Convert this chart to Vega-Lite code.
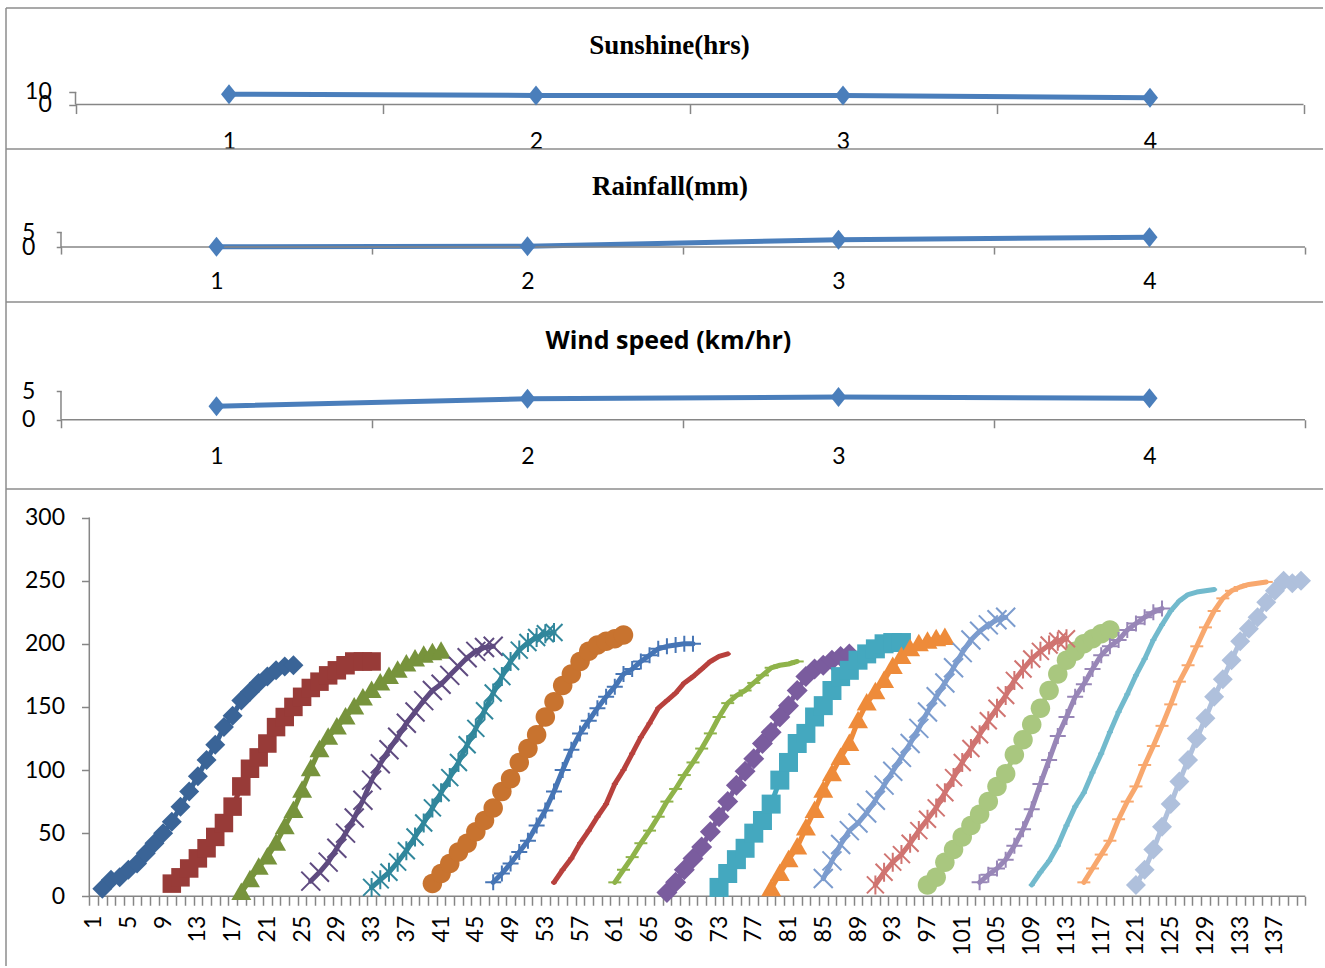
{
"$schema":"https://vega.github.io/schema/vega-lite/v6.json",
"padding":{"left":5,"top":7,"right":0,"bottom":0},
"spacing":0,
"bounds":"flush",
"config":{"view":{"stroke":null},"font":"Lato","axis":{"grid":false,"domain":false,"tickColor":"#868686","tickWidth":1.5,"labelColor":"#000000","labelFont":"Lato","labelFontSize":23,"labelOverlap":false,"labelFlush":false}},
"datasets":{
"sun":[{"cat":1,"v":8.2},{"cat":2,"v":7.2},{"cat":3,"v":7.2},{"cat":4,"v":5.3}],
"rain":[{"cat":1,"v":0.1},{"cat":2,"v":0.3},{"cat":3,"v":2.5},{"cat":4,"v":3.3}],
"wind":[{"cat":1,"v":2.4},{"cat":2,"v":3.7},{"cat":3,"v":4.0},{"cat":4,"v":3.8}],
"curves":[
{"s":1,"x":2,"y":6},{"s":1,"x":3,"y":13},{"s":1,"x":4,"y":15},{"s":1,"x":5,"y":21},{"s":1,"x":6,"y":26},{"s":1,"x":7,"y":34},{"s":1,"x":8,"y":42},{"s":1,"x":9,"y":50},{"s":1,"x":10,"y":59},{"s":1,"x":11,"y":71},{"s":1,"x":12,"y":83},{"s":1,"x":13,"y":95},{"s":1,"x":14,"y":108},{"s":1,"x":15,"y":120},{"s":1,"x":16,"y":134},{"s":1,"x":17,"y":143},{"s":1,"x":18,"y":155},{"s":1,"x":19,"y":162},{"s":1,"x":20,"y":169},{"s":1,"x":21,"y":174},{"s":1,"x":22,"y":179},{"s":1,"x":23,"y":182},{"s":1,"x":24,"y":183},
{"s":2,"x":10,"y":10},{"s":2,"x":11,"y":15},{"s":2,"x":12,"y":22},{"s":2,"x":13,"y":30},{"s":2,"x":14,"y":38},{"s":2,"x":15,"y":47},{"s":2,"x":16,"y":58},{"s":2,"x":17,"y":71},{"s":2,"x":18,"y":87},{"s":2,"x":19,"y":101},{"s":2,"x":20,"y":110},{"s":2,"x":21,"y":121},{"s":2,"x":22,"y":134},{"s":2,"x":23,"y":142},{"s":2,"x":24,"y":150},{"s":2,"x":25,"y":158},{"s":2,"x":26,"y":165},{"s":2,"x":27,"y":170},{"s":2,"x":28,"y":175},{"s":2,"x":29,"y":179},{"s":2,"x":30,"y":183},{"s":2,"x":31,"y":186},{"s":2,"x":32,"y":186},{"s":2,"x":33,"y":186},
{"s":3,"x":18,"y":3},{"s":3,"x":19,"y":13},{"s":3,"x":20,"y":23},{"s":3,"x":21,"y":31},{"s":3,"x":22,"y":42},{"s":3,"x":23,"y":55},{"s":3,"x":24,"y":68},{"s":3,"x":25,"y":84},{"s":3,"x":26,"y":101},{"s":3,"x":27,"y":116},{"s":3,"x":28,"y":126},{"s":3,"x":29,"y":134},{"s":3,"x":30,"y":142},{"s":3,"x":31,"y":150},{"s":3,"x":32,"y":157},{"s":3,"x":33,"y":163},{"s":3,"x":34,"y":169},{"s":3,"x":35,"y":174},{"s":3,"x":36,"y":179},{"s":3,"x":37,"y":184},{"s":3,"x":38,"y":188},{"s":3,"x":39,"y":191},{"s":3,"x":40,"y":193},{"s":3,"x":41,"y":194},
{"s":4,"x":26,"y":12},{"s":4,"x":27,"y":19},{"s":4,"x":28,"y":27},{"s":4,"x":29,"y":38},{"s":4,"x":30,"y":50},{"s":4,"x":31,"y":62},{"s":4,"x":32,"y":76},{"s":4,"x":33,"y":92},{"s":4,"x":34,"y":105},{"s":4,"x":35,"y":116},{"s":4,"x":36,"y":126},{"s":4,"x":37,"y":137},{"s":4,"x":38,"y":146},{"s":4,"x":39,"y":155},{"s":4,"x":40,"y":163},{"s":4,"x":41,"y":168},{"s":4,"x":42,"y":175},{"s":4,"x":43,"y":182},{"s":4,"x":44,"y":189},{"s":4,"x":45,"y":194},{"s":4,"x":46,"y":197},{"s":4,"x":47,"y":198},
{"s":5,"x":33,"y":7},{"s":5,"x":34,"y":13},{"s":5,"x":35,"y":19},{"s":5,"x":36,"y":27},{"s":5,"x":37,"y":36},{"s":5,"x":38,"y":47},{"s":5,"x":39,"y":58},{"s":5,"x":40,"y":70},{"s":5,"x":41,"y":82},{"s":5,"x":42,"y":94},{"s":5,"x":43,"y":106},{"s":5,"x":44,"y":120},{"s":5,"x":45,"y":133},{"s":5,"x":46,"y":147},{"s":5,"x":47,"y":161},{"s":5,"x":48,"y":174},{"s":5,"x":49,"y":186},{"s":5,"x":50,"y":195},{"s":5,"x":51,"y":201},{"s":5,"x":52,"y":205},{"s":5,"x":53,"y":208},{"s":5,"x":54,"y":209},
{"s":6,"x":40,"y":10},{"s":6,"x":41,"y":18},{"s":6,"x":42,"y":26},{"s":6,"x":43,"y":35},{"s":6,"x":44,"y":42},{"s":6,"x":45,"y":51},{"s":6,"x":46,"y":60},{"s":6,"x":47,"y":70},{"s":6,"x":48,"y":83},{"s":6,"x":49,"y":93},{"s":6,"x":50,"y":106},{"s":6,"x":51,"y":117},{"s":6,"x":52,"y":128},{"s":6,"x":53,"y":142},{"s":6,"x":54,"y":154},{"s":6,"x":55,"y":167},{"s":6,"x":56,"y":176},{"s":6,"x":57,"y":186},{"s":6,"x":58,"y":194},{"s":6,"x":59,"y":199},{"s":6,"x":60,"y":202},{"s":6,"x":61,"y":204},{"s":6,"x":62,"y":207},
{"s":7,"x":47,"y":11},{"s":7,"x":48,"y":18},{"s":7,"x":49,"y":26},{"s":7,"x":50,"y":35},{"s":7,"x":51,"y":44},{"s":7,"x":52,"y":56},{"s":7,"x":53,"y":68},{"s":7,"x":54,"y":83},{"s":7,"x":55,"y":100},{"s":7,"x":56,"y":116},{"s":7,"x":57,"y":129},{"s":7,"x":58,"y":139},{"s":7,"x":59,"y":149},{"s":7,"x":60,"y":158},{"s":7,"x":61,"y":166},{"s":7,"x":62,"y":176},{"s":7,"x":63,"y":180},{"s":7,"x":64,"y":186},{"s":7,"x":65,"y":191},{"s":7,"x":66,"y":196},{"s":7,"x":67,"y":198},{"s":7,"x":68,"y":199},{"s":7,"x":69,"y":200},{"s":7,"x":70,"y":200},
{"s":8,"x":54,"y":11},{"s":8,"x":55,"y":21},{"s":8,"x":56,"y":30},{"s":8,"x":57,"y":42},{"s":8,"x":58,"y":52},{"s":8,"x":59,"y":63},{"s":8,"x":60,"y":73},{"s":8,"x":61,"y":89},{"s":8,"x":62,"y":100},{"s":8,"x":63,"y":113},{"s":8,"x":64,"y":126},{"s":8,"x":65,"y":137},{"s":8,"x":66,"y":149},{"s":8,"x":67,"y":155},{"s":8,"x":68,"y":161},{"s":8,"x":69,"y":169},{"s":8,"x":70,"y":174},{"s":8,"x":71,"y":180},{"s":8,"x":72,"y":186},{"s":8,"x":73,"y":190},{"s":8,"x":74,"y":192},
{"s":9,"x":61,"y":11},{"s":9,"x":62,"y":21},{"s":9,"x":63,"y":31},{"s":9,"x":64,"y":42},{"s":9,"x":65,"y":52},{"s":9,"x":66,"y":63},{"s":9,"x":67,"y":75},{"s":9,"x":68,"y":85},{"s":9,"x":69,"y":96},{"s":9,"x":70,"y":106},{"s":9,"x":71,"y":117},{"s":9,"x":72,"y":129},{"s":9,"x":73,"y":142},{"s":9,"x":74,"y":153},{"s":9,"x":75,"y":159},{"s":9,"x":76,"y":163},{"s":9,"x":77,"y":169},{"s":9,"x":78,"y":175},{"s":9,"x":79,"y":181},{"s":9,"x":80,"y":183},{"s":9,"x":81,"y":184},{"s":9,"x":82,"y":186},
{"s":10,"x":67,"y":3},{"s":10,"x":68,"y":11},{"s":10,"x":69,"y":21},{"s":10,"x":70,"y":30},{"s":10,"x":71,"y":39},{"s":10,"x":72,"y":51},{"s":10,"x":73,"y":63},{"s":10,"x":74,"y":75},{"s":10,"x":75,"y":88},{"s":10,"x":76,"y":99},{"s":10,"x":77,"y":109},{"s":10,"x":78,"y":121},{"s":10,"x":79,"y":130},{"s":10,"x":80,"y":142},{"s":10,"x":81,"y":151},{"s":10,"x":82,"y":163},{"s":10,"x":83,"y":174},{"s":10,"x":84,"y":180},{"s":10,"x":85,"y":183},{"s":10,"x":86,"y":187},{"s":10,"x":87,"y":190},{"s":10,"x":88,"y":192},
{"s":11,"x":73,"y":7},{"s":11,"x":74,"y":18},{"s":11,"x":75,"y":29},{"s":11,"x":76,"y":38},{"s":11,"x":77,"y":50},{"s":11,"x":78,"y":60},{"s":11,"x":79,"y":73},{"s":11,"x":80,"y":92},{"s":11,"x":81,"y":106},{"s":11,"x":82,"y":121},{"s":11,"x":83,"y":129},{"s":11,"x":84,"y":142},{"s":11,"x":85,"y":151},{"s":11,"x":86,"y":163},{"s":11,"x":87,"y":174},{"s":11,"x":88,"y":179},{"s":11,"x":89,"y":187},{"s":11,"x":90,"y":192},{"s":11,"x":91,"y":196},{"s":11,"x":92,"y":200},{"s":11,"x":93,"y":201},{"s":11,"x":94,"y":201},
{"s":12,"x":79,"y":6},{"s":12,"x":80,"y":18},{"s":12,"x":81,"y":29},{"s":12,"x":82,"y":39},{"s":12,"x":83,"y":54},{"s":12,"x":84,"y":68},{"s":12,"x":85,"y":84},{"s":12,"x":86,"y":97},{"s":12,"x":87,"y":110},{"s":12,"x":88,"y":121},{"s":12,"x":89,"y":139},{"s":12,"x":90,"y":153},{"s":12,"x":91,"y":162},{"s":12,"x":92,"y":171},{"s":12,"x":93,"y":182},{"s":12,"x":94,"y":190},{"s":12,"x":95,"y":196},{"s":12,"x":96,"y":200},{"s":12,"x":97,"y":202},{"s":12,"x":98,"y":204},{"s":12,"x":99,"y":205},
{"s":13,"x":85,"y":14},{"s":13,"x":86,"y":28},{"s":13,"x":87,"y":41},{"s":13,"x":88,"y":52},{"s":13,"x":89,"y":58},{"s":13,"x":90,"y":66},{"s":13,"x":91,"y":76},{"s":13,"x":92,"y":88},{"s":13,"x":93,"y":99},{"s":13,"x":94,"y":110},{"s":13,"x":95,"y":121},{"s":13,"x":96,"y":133},{"s":13,"x":97,"y":146},{"s":13,"x":98,"y":158},{"s":13,"x":99,"y":169},{"s":13,"x":100,"y":181},{"s":13,"x":101,"y":193},{"s":13,"x":102,"y":203},{"s":13,"x":103,"y":210},{"s":13,"x":104,"y":215},{"s":13,"x":105,"y":219},{"s":13,"x":106,"y":221},
{"s":14,"x":91,"y":9},{"s":14,"x":92,"y":19},{"s":14,"x":93,"y":27},{"s":14,"x":94,"y":33},{"s":14,"x":95,"y":42},{"s":14,"x":96,"y":52},{"s":14,"x":97,"y":61},{"s":14,"x":98,"y":70},{"s":14,"x":99,"y":82},{"s":14,"x":100,"y":94},{"s":14,"x":101,"y":106},{"s":14,"x":102,"y":117},{"s":14,"x":103,"y":128},{"s":14,"x":104,"y":139},{"s":14,"x":105,"y":149},{"s":14,"x":106,"y":159},{"s":14,"x":107,"y":171},{"s":14,"x":108,"y":180},{"s":14,"x":109,"y":188},{"s":14,"x":110,"y":194},{"s":14,"x":111,"y":199},{"s":14,"x":112,"y":202},{"s":14,"x":113,"y":204},
{"s":15,"x":97,"y":9},{"s":15,"x":98,"y":15},{"s":15,"x":99,"y":27},{"s":15,"x":100,"y":37},{"s":15,"x":101,"y":47},{"s":15,"x":102,"y":56},{"s":15,"x":103,"y":65},{"s":15,"x":104,"y":75},{"s":15,"x":105,"y":87},{"s":15,"x":106,"y":97},{"s":15,"x":107,"y":112},{"s":15,"x":108,"y":124},{"s":15,"x":109,"y":136},{"s":15,"x":110,"y":149},{"s":15,"x":111,"y":163},{"s":15,"x":112,"y":176},{"s":15,"x":113,"y":187},{"s":15,"x":114,"y":194},{"s":15,"x":115,"y":200},{"s":15,"x":116,"y":204},{"s":15,"x":117,"y":208},{"s":15,"x":118,"y":211},
{"s":16,"x":103,"y":11},{"s":16,"x":104,"y":17},{"s":16,"x":105,"y":22},{"s":16,"x":106,"y":29},{"s":16,"x":107,"y":40},{"s":16,"x":108,"y":53},{"s":16,"x":109,"y":69},{"s":16,"x":110,"y":89},{"s":16,"x":111,"y":108},{"s":16,"x":112,"y":127},{"s":16,"x":113,"y":142},{"s":16,"x":114,"y":158},{"s":16,"x":115,"y":168},{"s":16,"x":116,"y":180},{"s":16,"x":117,"y":191},{"s":16,"x":118,"y":198},{"s":16,"x":119,"y":203},{"s":16,"x":120,"y":211},{"s":16,"x":121,"y":216},{"s":16,"x":122,"y":221},{"s":16,"x":123,"y":225},{"s":16,"x":124,"y":228},
{"s":17,"x":109,"y":9},{"s":17,"x":110,"y":19},{"s":17,"x":111,"y":28},{"s":17,"x":112,"y":40},{"s":17,"x":113,"y":56},{"s":17,"x":114,"y":71},{"s":17,"x":115,"y":82},{"s":17,"x":116,"y":98},{"s":17,"x":117,"y":113},{"s":17,"x":118,"y":130},{"s":17,"x":119,"y":146},{"s":17,"x":120,"y":160},{"s":17,"x":121,"y":175},{"s":17,"x":122,"y":188},{"s":17,"x":123,"y":203},{"s":17,"x":124,"y":215},{"s":17,"x":125,"y":226},{"s":17,"x":126,"y":234},{"s":17,"x":127,"y":239},{"s":17,"x":128,"y":241},{"s":17,"x":129,"y":242},{"s":17,"x":130,"y":243},
{"s":18,"x":115,"y":11},{"s":18,"x":116,"y":22},{"s":18,"x":117,"y":33},{"s":18,"x":118,"y":44},{"s":18,"x":119,"y":61},{"s":18,"x":120,"y":75},{"s":18,"x":121,"y":87},{"s":18,"x":122,"y":104},{"s":18,"x":123,"y":119},{"s":18,"x":124,"y":135},{"s":18,"x":125,"y":152},{"s":18,"x":126,"y":170},{"s":18,"x":127,"y":183},{"s":18,"x":128,"y":198},{"s":18,"x":129,"y":213},{"s":18,"x":130,"y":226},{"s":18,"x":131,"y":236},{"s":18,"x":132,"y":242},{"s":18,"x":133,"y":245},{"s":18,"x":134,"y":247},{"s":18,"x":135,"y":248},{"s":18,"x":136,"y":249},
{"s":19,"x":121,"y":9},{"s":19,"x":122,"y":21},{"s":19,"x":123,"y":37},{"s":19,"x":124,"y":55},{"s":19,"x":125,"y":73},{"s":19,"x":126,"y":91},{"s":19,"x":127,"y":108},{"s":19,"x":128,"y":125},{"s":19,"x":129,"y":141},{"s":19,"x":130,"y":158},{"s":19,"x":131,"y":172},{"s":19,"x":132,"y":187},{"s":19,"x":133,"y":202},{"s":19,"x":134,"y":212},{"s":19,"x":135,"y":221},{"s":19,"x":136,"y":233},{"s":19,"x":137,"y":242},{"s":19,"x":138,"y":250},{"s":19,"x":139,"y":248},{"s":19,"x":140,"y":250}
]},
"vconcat":[
{"width":1317,"height":141,
 "layer":[
  {"data":{"name":"sun"},"mark":{"type":"line","color":"#4A7EBB","strokeWidth":5},
   "encoding":{"x":{"field":"cat","type":"quantitative","scale":{"domain":[0.2736,4.5635],"nice":false,"zero":false},"axis":{"title":null,"values":[0.5,1.5,2.5,3.5,4.5],"labelExpr":"datum.value < 4 ? format(datum.value + 0.5, 'd') : ''","labelOffset":153.5,"offset":-44.45,"tickSize":9,"labelPadding":17,"labelOverlap":false,"minExtent":0}},
    "y":{"field":"v","type":"quantitative","scale":{"domain":[-35.28,76.63],"nice":false,"zero":false},"axis":{"title":null,"values":[0,10],"format":"d","offset":-69.75,"tickSize":7,"labelPadding":17.5,"labelOverlap":false}}}},
  {"data":{"values":[{}]},"mark":{"type":"rule","color":"#8c8c8c","strokeWidth":1.5},"encoding":{"x":{"datum":0.2736,"type":"quantitative"},"x2":{"datum":4.5635},"y":{"datum":76.63,"type":"quantitative"}}},
  {"data":{"values":[{}]},"mark":{"type":"rule","color":"#8c8c8c","strokeWidth":1.5},"encoding":{"x":{"datum":0.2736,"type":"quantitative"},"y":{"datum":-35.28,"type":"quantitative"},"y2":{"datum":76.63}}},
  {"data":{"values":[{}]},"mark":{"type":"rule","color":"#868686","strokeWidth":1.5},"encoding":{"x":{"datum":0.5,"type":"quantitative"},"x2":{"datum":4.5},"y":{"datum":0,"type":"quantitative"}}},
  {"data":{"values":[{}]},"mark":{"type":"rule","color":"#868686","strokeWidth":1.5},"encoding":{"x":{"datum":0.5,"type":"quantitative"},"y":{"datum":0,"type":"quantitative"},"y2":{"datum":10}}},
  {"data":{"name":"sun"},"mark":{"type":"point","filled":true,"opacity":1,"color":"#4A7EBB","size":100,"shape":"M0,-2L1.6,0L0,2L-1.6,0Z"},
   "encoding":{"x":{"field":"cat","type":"quantitative"},"y":{"field":"v","type":"quantitative"}}},
  {"data":{"values":[{"t":"Sunshine(hrs)"}]},"mark":{"type":"text","font":"Liberation Serif","fontSize":27,"fontWeight":"bold","color":"#000000","align":"center","baseline":"alphabetic"},
   "encoding":{"x":{"datum":2.435,"type":"quantitative"},"y":{"datum":40.48,"type":"quantitative"},"text":{"field":"t","type":"nominal"}}}
 ]},
{"width":1317,"height":153,
 "layer":[
  {"data":{"name":"rain"},"mark":{"type":"line","color":"#4A7EBB","strokeWidth":5},
   "encoding":{"x":{"field":"cat","type":"quantitative","scale":{"domain":[0.3232,4.5579],"nice":false,"zero":false},"axis":{"title":null,"values":[0.5,1.5,2.5,3.5,4.5],"labelExpr":"datum.value < 4 ? format(datum.value + 0.5, 'd') : ''","labelOffset":155.5,"offset":-54.95,"tickSize":7,"labelPadding":16.6,"labelOverlap":false,"minExtent":0}},
    "y":{"field":"v","type":"quantitative","scale":{"domain":[-18.69,33.35],"nice":false,"zero":false},"axis":{"title":null,"values":[0,5],"format":"d","offset":-55.25,"tickSize":5,"labelPadding":21.5,"labelOverlap":false}}}},
  {"data":{"values":[{}]},"mark":{"type":"rule","color":"#8c8c8c","strokeWidth":1.5},"encoding":{"x":{"datum":0.3232,"type":"quantitative"},"x2":{"datum":4.5579},"y":{"datum":33.35,"type":"quantitative"}}},
  {"data":{"values":[{}]},"mark":{"type":"rule","color":"#8c8c8c","strokeWidth":1.5},"encoding":{"x":{"datum":0.3232,"type":"quantitative"},"y":{"datum":-18.69,"type":"quantitative"},"y2":{"datum":33.35}}},
  {"data":{"values":[{}]},"mark":{"type":"rule","color":"#868686","strokeWidth":1.5},"encoding":{"x":{"datum":0.5,"type":"quantitative"},"x2":{"datum":4.5},"y":{"datum":0,"type":"quantitative"}}},
  {"data":{"values":[{}]},"mark":{"type":"rule","color":"#868686","strokeWidth":1.5},"encoding":{"x":{"datum":0.5,"type":"quantitative"},"y":{"datum":0,"type":"quantitative"},"y2":{"datum":5}}},
  {"data":{"name":"rain"},"mark":{"type":"point","filled":true,"opacity":1,"color":"#4A7EBB","size":100,"shape":"M0,-2L1.6,0L0,2L-1.6,0Z"},
   "encoding":{"x":{"field":"cat","type":"quantitative"},"y":{"field":"v","type":"quantitative"}}},
  {"data":{"values":[{"t":"Rainfall(mm)"}]},"mark":{"type":"text","font":"Liberation Serif","fontSize":27,"fontWeight":"bold","color":"#000000","align":"center","baseline":"alphabetic"},
   "encoding":{"x":{"datum":2.458,"type":"quantitative"},"y":{"datum":17.86,"type":"quantitative"},"text":{"field":"t","type":"nominal"}}}
 ]},
{"width":1317,"height":187,
 "layer":[
  {"data":{"name":"wind"},"mark":{"type":"line","color":"#4A7EBB","strokeWidth":5},
   "encoding":{"x":{"field":"cat","type":"quantitative","scale":{"domain":[0.3232,4.5579],"nice":false,"zero":false},"axis":{"title":null,"values":[0.5,1.5,2.5,3.5,4.5],"labelExpr":"datum.value < 4 ? format(datum.value + 0.5, 'd') : ''","labelOffset":155.5,"offset":-69.25,"tickSize":8,"labelPadding":18,"labelOverlap":false,"minExtent":0}},
    "y":{"field":"v","type":"quantitative","scale":{"domain":[-12.23,20.80],"nice":false,"zero":false},"axis":{"title":null,"values":[0,5],"format":"d","offset":-55.25,"tickSize":5,"labelPadding":21.5,"labelOverlap":false}}}},
  {"data":{"values":[{}]},"mark":{"type":"rule","color":"#8c8c8c","strokeWidth":1.5},"encoding":{"x":{"datum":0.3232,"type":"quantitative"},"x2":{"datum":4.5579},"y":{"datum":20.80,"type":"quantitative"}}},
  {"data":{"values":[{}]},"mark":{"type":"rule","color":"#8c8c8c","strokeWidth":1.5},"encoding":{"x":{"datum":0.3232,"type":"quantitative"},"y":{"datum":-12.23,"type":"quantitative"},"y2":{"datum":20.80}}},
  {"data":{"values":[{}]},"mark":{"type":"rule","color":"#868686","strokeWidth":1.5},"encoding":{"x":{"datum":0.5,"type":"quantitative"},"x2":{"datum":4.5},"y":{"datum":0,"type":"quantitative"}}},
  {"data":{"values":[{}]},"mark":{"type":"rule","color":"#868686","strokeWidth":1.5},"encoding":{"x":{"datum":0.5,"type":"quantitative"},"y":{"datum":0,"type":"quantitative"},"y2":{"datum":5}}},
  {"data":{"name":"wind"},"mark":{"type":"point","filled":true,"opacity":1,"color":"#4A7EBB","size":100,"shape":"M0,-2L1.6,0L0,2L-1.6,0Z"},
   "encoding":{"x":{"field":"cat","type":"quantitative"},"y":{"field":"v","type":"quantitative"}}},
  {"data":{"values":[{"t":"Wind speed (km/hr)"}]},"mark":{"type":"text","font":"Open Sans","fontSize":25,"fontWeight":"bold","color":"#000000","align":"center","baseline":"alphabetic"},
   "encoding":{"x":{"datum":2.453,"type":"quantitative"},"y":{"datum":12.58,"type":"quantitative"},"text":{"field":"t","type":"nominal"}}}
 ]},
{"width":1317,"height":477,
 "layer":[
  {"data":{"name":"curves"},"mark":{"type":"line","strokeWidth":5,"strokeJoin":"round","strokeCap":"round"},
   "encoding":{"x":{"field":"x","type":"quantitative","scale":{"domain":[-9.09,142.533],"nice":false,"zero":false},
     "axis":{"title":null,"tickCount":500,"values":[0.5,1.5,2.5,3.5,4.5,5.5,6.5,7.5,8.5,9.5,10.5,11.5,12.5,13.5,14.5,15.5,16.5,17.5,18.5,19.5,20.5,21.5,22.5,23.5,24.5,25.5,26.5,27.5,28.5,29.5,30.5,31.5,32.5,33.5,34.5,35.5,36.5,37.5,38.5,39.5,40.5,41.5,42.5,43.5,44.5,45.5,46.5,47.5,48.5,49.5,50.5,51.5,52.5,53.5,54.5,55.5,56.5,57.5,58.5,59.5,60.5,61.5,62.5,63.5,64.5,65.5,66.5,67.5,68.5,69.5,70.5,71.5,72.5,73.5,74.5,75.5,76.5,77.5,78.5,79.5,80.5,81.5,82.5,83.5,84.5,85.5,86.5,87.5,88.5,89.5,90.5,91.5,92.5,93.5,94.5,95.5,96.5,97.5,98.5,99.5,100.5,101.5,102.5,103.5,104.5,105.5,106.5,107.5,108.5,109.5,110.5,111.5,112.5,113.5,114.5,115.5,116.5,117.5,118.5,119.5,120.5,121.5,122.5,123.5,124.5,125.5,126.5,127.5,128.5,129.5,130.5,131.5,132.5,133.5,134.5,135.5,136.5,137.5,138.5,139.5,140.5],
      "labelExpr":"(datum.value - 0.5) % 4 == 0 && datum.value < 138 ? format(datum.value + 0.5, 'd') : ''","labelOffset":4.343,"labelAngle":-90,"labelAlign":"right","labelBaseline":"middle","offset":-69.75,"tickSize":9,"labelPadding":10,"labelOverlap":false,"minExtent":0}},
    "y":{"field":"y","type":"quantitative","scale":{"domain":[-55.26,322.63],"nice":false,"zero":false},"axis":{"title":null,"values":[0,50,100,150,200,250,300],"format":"d","offset":-83.5,"tickSize":8,"labelPadding":17,"labelOverlap":false}},
    "color":{"field":"s","type":"nominal","scale":{"domain":[1,2,3,4,5,6,7,8,9,10,11,12,13,14,15,16,17,18,19],"range":["#3A6497","#983B38","#77933C","#5F4B80","#31879C","#C8732F","#4675B5","#B8413D","#8FB34A","#7A5C9E","#44A8BF","#EE8B3A","#7C9CCE","#D07471","#A9C77F","#9886B7","#72BACD","#F8A86E","#AFC0DC"]},"legend":null}}},
  {"data":{"values":[{}]},"mark":{"type":"rule","color":"#8c8c8c","strokeWidth":1.5},"encoding":{"x":{"datum":-9.09,"type":"quantitative"},"x2":{"datum":142.533},"y":{"datum":322.63,"type":"quantitative"}}},
  {"data":{"values":[{}]},"mark":{"type":"rule","color":"#8c8c8c","strokeWidth":1.5},"encoding":{"x":{"datum":-9.09,"type":"quantitative"},"y":{"datum":-55.26,"type":"quantitative"},"y2":{"datum":322.63}}},
  {"data":{"values":[{}]},"mark":{"type":"rule","color":"#868686","strokeWidth":1.5},"encoding":{"x":{"datum":0.5,"type":"quantitative"},"x2":{"datum":140.5},"y":{"datum":0,"type":"quantitative"}}},
  {"data":{"values":[{}]},"mark":{"type":"rule","color":"#868686","strokeWidth":1.5},"encoding":{"x":{"datum":0.5,"type":"quantitative"},"y":{"datum":0,"type":"quantitative"},"y2":{"datum":300}}},
  {"data":{"name":"curves"},"transform":[{"filter":{"field":"s","oneOf":[1,2,3,6,10,11,12,15,19]}}],
   "mark":{"type":"point","filled":true,"opacity":1,"size":100,"strokeWidth":0},
   "encoding":{"x":{"field":"x","type":"quantitative"},"y":{"field":"y","type":"quantitative"},
    "color":{"field":"s","type":"nominal","legend":null},
    "shape":{"field":"s","type":"nominal","legend":null,"scale":{"domain":[1,2,3,4,5,6,7,8,9,10,11,12,13,14,15,16,17,18,19],"range":["M0,-2L2,0L0,2L-2,0Z","M-1.85,-1.85L1.85,-1.85L1.85,1.85L-1.85,1.85Z","M0,-2L2,1.5L-2,1.5Z","M-1.9,-1.9L1.9,1.9M1.9,-1.9L-1.9,1.9","M-1.7,-1.7L1.7,1.7M1.7,-1.7L-1.7,1.7M0,-1.9L0,1.9","M1.95,0A1.95,1.95,0,1,1,-1.95,0A1.95,1.95,0,1,1,1.95,0Z","M-1.6,0L1.6,0M0,-1.6L0,1.6","M-0.6,0L0.6,0","M-1.3,0L1.3,0","M0,-2.1L2.1,0L0,2.1L-2.1,0Z","M-1.9,-1.9L1.9,-1.9L1.9,1.9L-1.9,1.9Z","M0,-2L2,1.5L-2,1.5Z","M-1.9,-1.9L1.9,1.9M1.9,-1.9L-1.9,1.9","M-1.7,-1.7L1.7,1.7M1.7,-1.7L-1.7,1.7M0,-1.9L0,1.9","M1.95,0A1.95,1.95,0,1,1,-1.95,0A1.95,1.95,0,1,1,1.95,0Z","M-1.6,0L1.6,0M0,-1.6L0,1.6","M-0.6,0L0.6,0","M-1.3,0L1.3,0","M0,-2L2,0L0,2L-2,0Z"]}}}},
  {"data":{"name":"curves"},"transform":[{"filter":{"field":"s","oneOf":[4,5,7,8,9,13,14,16,17,18]}}],
   "mark":{"type":"point","filled":false,"opacity":1,"size":100,"strokeWidth":2},
   "encoding":{"x":{"field":"x","type":"quantitative"},"y":{"field":"y","type":"quantitative"},
    "color":{"field":"s","type":"nominal","legend":null},
    "shape":{"field":"s","type":"nominal","legend":null}}}
 ]}
]}
